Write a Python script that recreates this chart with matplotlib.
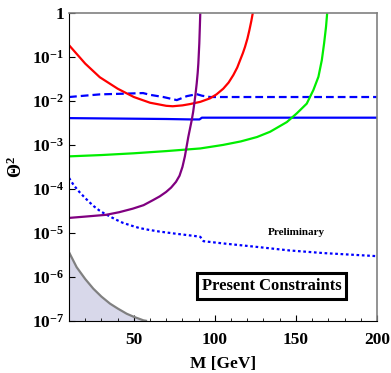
import numpy as np
import matplotlib
matplotlib.use("Agg")
from matplotlib import pyplot as plt
from matplotlib.ticker import FixedLocator, FuncFormatter, MultipleLocator

plt.rcParams['font.family'] = 'Liberation Serif'
plt.rcParams['font.weight'] = 'bold'
plt.rcParams['mathtext.fontset'] = 'custom'
plt.rcParams['mathtext.rm'] = 'Liberation Serif:bold'
plt.rcParams['mathtext.it'] = 'Liberation Serif:bold'
plt.rcParams['mathtext.bf'] = 'Liberation Serif:bold'

# curves: mass [GeV] and log10(Theta^2)
red_m = [10, 20, 29, 40, 50, 60, 70, 74, 80, 84.7, 91, 97, 101, 105.2, 108.5, 111.4, 113.8, 115.6, 117.3, 118.6, 120.1, 121.3, 122.5, 123.4]
red_y = [-0.73, -1.15, -1.46, -1.72, -1.91, -2.04, -2.11, -2.12, -2.10, -2.07, -2.02, -1.94, -1.85, -1.72, -1.58, -1.41, -1.24, -1.07, -0.91, -0.77, -0.58, -0.39, -0.18, 0.0]

green_m = [10, 30, 50, 70, 91, 105, 116, 126, 134.1, 144.4, 150.6, 156.7, 160.8, 163.9, 166.0, 167.4, 168.6, 169.3]
green_y = [-3.26, -3.23, -3.19, -3.14, -3.08, -3.00, -2.92, -2.82, -2.70, -2.48, -2.28, -2.06, -1.75, -1.45, -1.07, -0.69, -0.31, 0.0]

purple_m = [10, 20, 32.8, 41, 49.3, 56, 61.6, 66, 69.9, 73, 76, 78.2, 80, 81.5, 82.6, 83.6, 84.7, 85.7, 86.6, 87.3, 88.1, 88.8, 89.4, 89.8, 90.4, 90.7, 91.0]
purple_y = [-4.66, -4.63, -4.59, -4.53, -4.45, -4.37, -4.26, -4.17, -4.07, -3.97, -3.84, -3.70, -3.50, -3.26, -3.03, -2.82, -2.62, -2.44, -2.25, -2.06, -1.83, -1.60, -1.36, -1.15, -0.69, -0.35, 0.0]

solid_m = [10, 40, 70, 85.5, 90.5, 92, 120, 160, 200]
solid_y = [-2.39, -2.40, -2.41, -2.42, -2.42, -2.38, -2.38, -2.38, -2.38]

dash_m = [10, 29, 47.7, 55.7, 60, 68.2, 76.5, 82.7, 88.8, 92, 97, 130, 170, 200]
dash_y = [-1.91, -1.85, -1.83, -1.82, -1.86, -1.91, -1.98, -1.89, -1.845, -1.88, -1.91, -1.91, -1.91, -1.91]

dot_m = [10, 13, 16.4, 19.5, 22.5, 25.5, 28.7, 31.8, 34.9, 39, 43.1, 48, 53.4, 59, 65.7, 76, 87.3, 91, 93, 105, 126, 146, 167, 200]
dot_y = [-3.75, -3.92, -4.07, -4.19, -4.30, -4.40, -4.49, -4.56, -4.62, -4.70, -4.77, -4.83, -4.89, -4.93, -4.97, -5.02, -5.07, -5.09, -5.19, -5.24, -5.32, -5.40, -5.46, -5.53]

gray_m = [10, 14.7, 20, 25, 30, 35.3, 40, 45.6, 50, 55.9, 57.5]
gray_y = [-5.44, -5.78, -6.05, -6.27, -6.45, -6.61, -6.72, -6.84, -6.91, -6.99, -7.0]

y_ticks = [1e-7, 1e-6, 1e-5, 1e-4, 1e-3, 1e-2, 1e-1, 1]
x_ticks = [50, 100, 150, 200]

fig = plt.figure(figsize=(3.91, 3.73), dpi=100)
ax = fig.add_axes([0.1765, 0.140, 0.7875, 0.825])

gm = np.array(gray_m)
gy = 10.0 ** np.array(gray_y)
ax.fill_between(gm, 1e-7, gy, color='#d8d8ea', lw=0)
ax.plot(gm, gy, color='#808080', lw=1.6)

ax.plot(dot_m, 10.0 ** np.array(dot_y), color='#0000ff', lw=1.6, ls=(0, (1.2, 1.2)))
ax.plot(dash_m, 10.0 ** np.array(dash_y), color='#0000ff', lw=1.6, ls=(0, (3.5, 1.8)))
ax.plot(solid_m, 10.0 ** np.array(solid_y), color='#0000ff', lw=1.6)
ax.plot(green_m, 10.0 ** np.array(green_y), color='#00ee00', lw=1.6)
ax.plot(red_m, 10.0 ** np.array(red_y), color='#ff0000', lw=1.6)
ax.plot(purple_m, 10.0 ** np.array(purple_y), color='#800080', lw=1.6)

ax.set_yscale('log')
ax.set_xlim(10, 200)
ax.set_ylim(1e-7, 1)

def ylab(v, pos):
    e = int(round(np.log10(v)))
    if e == 0:
        return '1'
    return r'$\mathbf{10^{%d}}$' % e

ax.yaxis.set_major_locator(FixedLocator(y_ticks))
ax.yaxis.set_major_formatter(FuncFormatter(ylab))
ax.yaxis.set_minor_locator(FixedLocator([]))
ax.xaxis.set_major_locator(FixedLocator(x_ticks))
ax.xaxis.set_minor_locator(MultipleLocator(10))
ax.tick_params(which='both', direction='in', labelsize=12.5, top=False, right=False)
ax.tick_params(which='major', length=4, width=0.8)
ax.tick_params(which='minor', length=2.5, width=0.6)
ax.tick_params(axis='x', pad=8)

for s in ['left', 'bottom']:
    ax.spines[s].set_color('black')
for s in ['top', 'right']:
    ax.spines[s].set_color('#808080')
    ax.spines[s].set_linewidth(1.2)

ax.set_xlabel('M [GeV]', fontsize=12.5, fontweight='bold', labelpad=6)
ax.set_ylabel(r'$\mathbf{\Theta^2}$', fontsize=13, labelpad=4)

ax.text(150, 10 ** -5.0, 'Preliminary', fontsize=8, fontweight='bold', ha='center', va='center')
ax.text(135, 10 ** -6.2, 'Present Constraints', fontsize=12, fontweight='bold', ha='center', va='center',
        bbox=dict(boxstyle='square,pad=0.3', fc='white', ec='black', lw=2.2))

fig.savefig('out.png', dpi=100)
